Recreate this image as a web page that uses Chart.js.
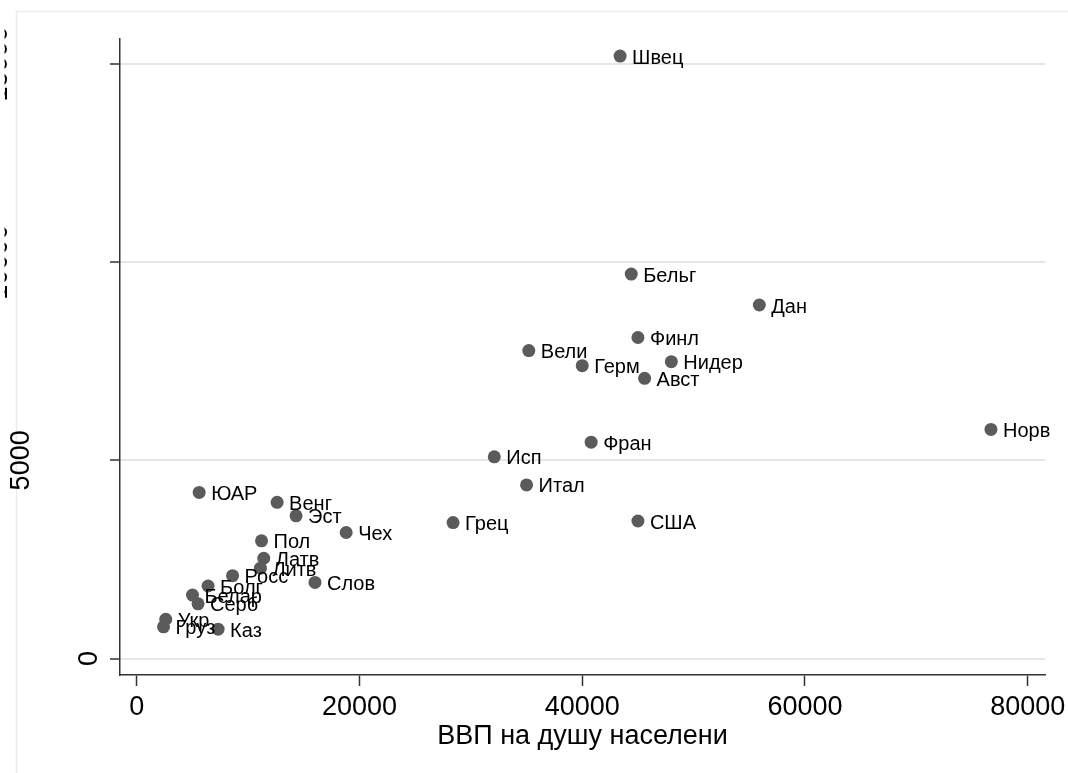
<!DOCTYPE html>
<html>
<head>
<meta charset="utf-8">
<script src="https://cdn.jsdelivr.net/npm/chart.js@4.4.1/dist/chart.umd.min.js"></script>
<style>
  html, body { margin: 0; padding: 0; background: #fff; }
  #wrap { width: 1068px; height: 773px; }
</style>
</head>
<body>
<div id="wrap"><canvas id="myScatter"></canvas></div>
<script>
const fontFamily = "'Liberation Sans', Arial, sans-serif";
const markerColor = "#5b5b5b";

// Data
const countries = ["Швец", "Бельг", "Дан", "Финл", "Вели", "Герм", "Нидер", "Авст", "Фран", "Исп",
    "Итал", "Грец", "США", "Норв", "ЮАР", "Венг", "Эст", "Чех", "Пол", "Латв",
    "Литв", "Росс", "Слов", "Болг", "Белар", "Серб", "Укр", "Груз", "Каз"];
const gdpPerCapita = [43400, 44400, 55900, 45000, 35200, 40000, 48000, 45600, 40800, 32100,
    35000, 28400, 45000, 76700, 5600, 12600, 14300, 18800, 11200, 11400,
    11100, 8600, 16000, 6400, 5000, 5500, 2600, 2400, 7300];
const values = [15200, 9700, 8920, 8100, 7770, 7390, 7490, 7070, 5460, 5090,
    4380, 3430, 3470, 5780, 4190, 3940, 3600, 3180, 2970, 2530,
    2280, 2090, 1920, 1830, 1600, 1380, 990, 800, 740];
const xTicks = [0, 20000, 40000, 60000, 80000];
const yTicks = [0, 5000, 10000, 15000];
const xTitle = "ВВП на душу населени";

const points = gdpPerCapita.map((x, i) => ({ x: x, y: values[i] }));

// light outer frame
const frame = {
    id: 'frame',
    beforeDraw(chart) {
        const ctx = chart.ctx;
        ctx.save();
        ctx.strokeStyle = "#ececec";
        ctx.lineWidth = 1.5;
        ctx.strokeRect(16.5, 11.5, 1100, 800);
        ctx.restore();
    }
};

// country names next to the markers
const pointLabels = {
    id: 'pointLabels',
    afterDatasetsDraw(chart) {
        const ctx = chart.ctx;
        const meta = chart.getDatasetMeta(0);
        ctx.save();
        ctx.font = "20px " + fontFamily;
        ctx.fillStyle = "#000";
        ctx.textAlign = "left";
        ctx.textBaseline = "middle";
        meta.data.forEach((el, i) => {
            ctx.fillText(countries[i], el.x + 12, el.y + 2);
        });
        ctx.restore();
    }
};

// rotated y labels, placed the way the original renders them (long ones run off the left edge)
const yLabels = {
    id: 'yLabels',
    afterDraw(chart) {
        const ctx = chart.ctx;
        const y = chart.scales.y;
        ctx.save();
        ctx.beginPath();
        ctx.rect(4.5, 0, chart.width, chart.height);
        ctx.clip();
        ctx.font = "27px " + fontFamily;
        ctx.fillStyle = "#000";
        ctx.textAlign = "center";
        ctx.textBaseline = "middle";
        yTicks.forEach(v => {
            const txt = String(v);
            const w = ctx.measureText(txt).width;
            const cx = 112.7 - 1.51 * w;
            const cy = y.getPixelForValue(v);
            ctx.save();
            ctx.translate(cx, cy);
            ctx.rotate(-Math.PI / 2);
            ctx.fillText(txt, 0, 0);
            ctx.restore();
        });
        ctx.restore();
    }
};

new Chart("myScatter", {
    type: "scatter",
    data: {
        datasets: [{
            data: points,
            backgroundColor: markerColor,
            borderColor: markerColor,
            borderWidth: 0,
            pointRadius: 6.5,
            pointHoverRadius: 6.5,
        }],
    },
    options: {
        responsive: true,
        maintainAspectRatio: false,
        animation: false,
        layout: {
            padding: { left: 0, right: 23, top: 39, bottom: 0 },
        },
        plugins: {
            legend: { display: false },
            tooltip: { enabled: false },
            title: { display: false },
        },
        scales: {
            x: {
                type: 'linear',
                min: -1509,
                max: 81554,
                afterBuildTicks: scale => { scale.ticks = xTicks.map(v => ({ value: v })); },
                afterFit: scale => {
                    scale.height = 98;
                    scale.paddingLeft = 0;
                    scale.paddingRight = 0;
                },
                grid: {
                    drawOnChartArea: false,
                    drawTicks: true,
                    tickLength: 11,
                    tickColor: "#333",
                    tickWidth: 1.5,
                },
                border: { display: true, color: "#333", width: 1.5 },
                ticks: {
                    autoSkip: false,
                    maxRotation: 0,
                    padding: 5,
                    color: "#000",
                    font: { family: fontFamily, size: 27 },
                    callback: v => String(v),
                },
                title: {
                    display: true,
                    text: xTitle,
                    color: "#000",
                    font: { family: fontFamily, size: 27 },
                    padding: { top: 0, bottom: 20 },
                },
            },
            y: {
                type: 'linear',
                min: -416,
                max: 15632,
                afterBuildTicks: scale => { scale.ticks = yTicks.map(v => ({ value: v })); },
                afterFit: scale => {
                    scale.width = 120;
                    scale.paddingTop = 0;
                    scale.paddingBottom = 0;
                },
                grid: {
                    color: "#e6e6e6",
                    lineWidth: 2,
                    drawTicks: true,
                    tickLength: 10,
                    tickColor: "#333",
                    tickWidth: 1.5,
                },
                border: { display: true, color: "#333", width: 1.5 },
                ticks: { display: false },
            },
        },
    },
    plugins: [frame, pointLabels, yLabels]
});
</script>
</body>
</html>
